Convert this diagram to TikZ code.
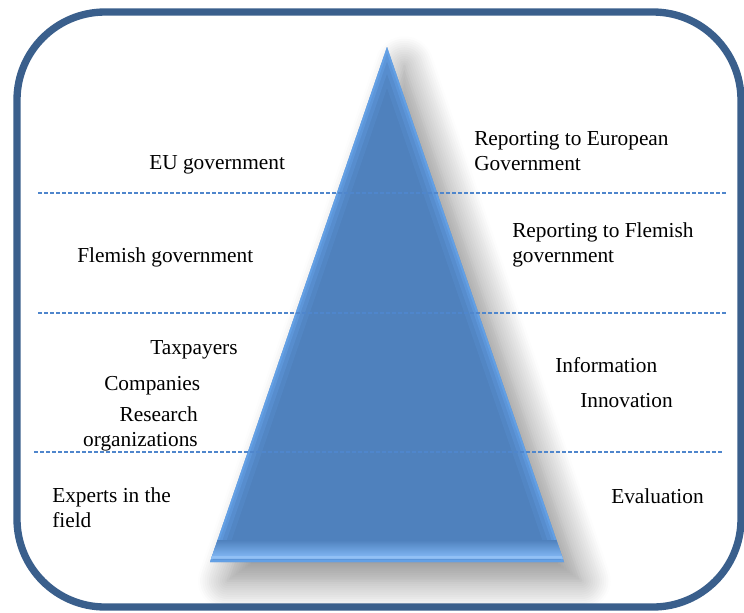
\documentclass[tikz,border=0pt]{standalone}
\usepackage{fontspec}
\setmainfont{Liberation Serif}
\usetikzlibrary{shadows.blur}
\definecolor{framecol}{HTML}{3A5F8C}
\definecolor{sepcol}{HTML}{4F86CC}
\definecolor{trifill}{HTML}{4F81BD}
\definecolor{triedge}{HTML}{6AAAF2}

\begin{document}
\begin{tikzpicture}[x=0.75pt,y=0.75pt,yscale=-1,xscale=1,
    lbl/.style={inner sep=0pt,font=\fontsize{16}{18.75}\selectfont},
    sep/.style={draw=sepcol,line width=0.9pt,dash pattern=on 3pt off 1.5pt}]
  \useasboundingbox (0,0) rectangle (744,612);

  % pyramid with its shadow
  \coordinate (apex) at (387,47);
  \coordinate (bl) at (210,562);
  \coordinate (br) at (564,562);
  \fill[trifill,blur shadow={shadow xshift=13pt,shadow yshift=-14pt,shadow blur radius=22pt,shadow blur steps=14,shadow opacity=45}]
    (apex) -- (br) -- (bl) -- cycle;
  \begin{scope}
    \clip (apex) -- (br) -- (bl) -- cycle;
    \foreach \w/\o in {20/0.14,13/0.22,7/0.32,3/0.5}
      \draw[triedge,line width=\w pt,opacity=\o,line join=round] (apex) -- (br) -- (bl) -- cycle;
    % bevel along the base
    \shade[top color=trifill,bottom color=triedge!85!white] (200,540) rectangle (575,557);
    \fill[triedge!70!white,opacity=0.8] (200,556) rectangle (575,558.5);
  \end{scope}

  % level separators
  \draw[sep] (38,193) -- (728,193);
  \draw[sep] (38,313) -- (728,313);
  \draw[sep] (34,452) -- (723,452);

  % left column
  \node[lbl,anchor=base west] (eu) at (149,169) {EU government};
  \node[lbl,anchor=base west] (flemish) at (77,262) {Flemish government};
  \node[lbl,anchor=base west] (taxpayers) at (150,354) {Taxpayers};
  \node[lbl,anchor=base west] (companies) at (104,390) {Companies};
  \node[lbl,anchor=base east,align=right] (research) at (198,446) {Research\\organizations};
  \node[lbl,anchor=base west,align=left] (experts) at (52,527) {Experts in the\\field};

  % right column
  \node[lbl,anchor=base west,align=left] (repeu) at (474,170) {Reporting to European\\Government};
  \node[lbl,anchor=base west,align=left] (repfl) at (512,262) {Reporting to Flemish\\government};
  \node[lbl,anchor=base west] (information) at (555,372) {Information};
  \node[lbl,anchor=base west] (innovation) at (580,407) {Innovation};
  \node[lbl,anchor=base west] (evaluation) at (611,503) {Evaluation};

  % outer frame
  \draw[framecol,line width=5.5pt,rounded corners=66pt] (17,12) rectangle (741,607);
\end{tikzpicture}
\end{document}
